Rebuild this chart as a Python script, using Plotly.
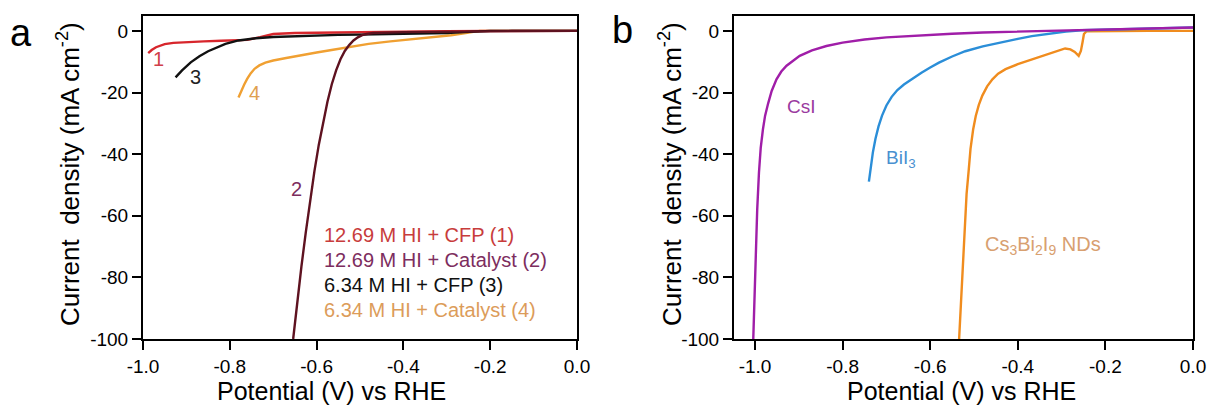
import plotly.graph_objects as go

W, H = 1210, 405
FONT = "Arial, 'Liberation Sans', sans-serif"

# ---------------- Panel a data ----------------
x1 = [-0.988, -0.98, -0.97, -0.96, -0.95, -0.93, -0.90, -0.86, -0.82, -0.78, -0.76, -0.73, -0.70,
      -0.65, -0.60, -0.55, -0.50, -0.46, -0.40, -0.30, -0.20, -0.10, 0.0]
y1 = [-7.2, -6.2, -5.3, -4.7, -4.3, -3.9, -3.6, -3.4, -3.2, -3.1, -2.9, -2.0, -1.0,
      -0.7, -0.6, -0.5, -0.4, -0.3, -0.2, -0.1, -0.05, 0.0, 0.0]

x2 = [-0.654, -0.645, -0.635, -0.625, -0.615, -0.605, -0.595, -0.585, -0.575, -0.565, -0.555,
      -0.545, -0.535, -0.525, -0.515, -0.505, -0.495, -0.485, -0.47, -0.40, -0.30, -0.15, 0.0]
y2 = [-100, -88.5, -76.5, -65.5, -55, -45.5, -37, -29.5, -23, -17.3, -12.8,
      -9.2, -6.5, -4.6, -3.1, -2.1, -1.4, -1.0, -0.7, -0.4, -0.2, -0.05, 0.0]

x3 = [-0.925, -0.91, -0.89, -0.87, -0.85, -0.83, -0.81, -0.78, -0.74, -0.70, -0.65, -0.60,
      -0.55, -0.50, -0.45, -0.40, -0.35, -0.30, -0.26, -0.23, -0.20, -0.10, 0.0]
y3 = [-15.1, -12.8, -10.2, -8.2, -6.6, -5.3, -4.2, -3.1, -2.4, -2.0, -1.7, -1.5,
      -1.3, -1.2, -1.1, -1.0, -0.9, -0.7, -0.4, -0.1, 0.0, 0.0, 0.0]

x4 = [-0.780, -0.774, -0.767, -0.760, -0.752, -0.743, -0.732, -0.718, -0.70, -0.67, -0.638,
      -0.60, -0.562, -0.527, -0.48, -0.43, -0.38, -0.331, -0.29, -0.26, -0.24, -0.224, -0.15, 0.0]
y4 = [-21.6, -19.6, -17.5, -15.6, -13.8, -12.3, -11.2, -10.3, -9.6, -8.8, -7.9,
      -7.0, -6.1, -5.2, -4.2, -3.4, -2.7, -2.1, -1.4, -0.8, -0.3, 0.0, 0.0, 0.0]

legend_a = ["12.69 M HI + CFP (1)", "12.69 M HI + Catalyst (2)",
            "6.34 M HI + CFP (3)", "6.34 M HI + Catalyst (4)"]

# ---------------- Panel b data ----------------
x_csi = [-1.004, -1.001, -0.998, -0.995, -0.991, -0.987, -0.982, -0.977, -0.970, -0.962, -0.951,
         -0.94, -0.928, -0.912, -0.898, -0.87, -0.837, -0.80, -0.75, -0.70, -0.633, -0.55, -0.48,
         -0.40, -0.30, -0.25, -0.15, -0.05, 0.0]
y_csi = [-100, -85, -70, -58, -46, -38, -32, -27.5, -23.5, -19.5, -15.7,
         -13.2, -11.3, -9.5, -8.1, -6.3, -4.9, -3.8, -2.8, -2.1, -1.5, -0.9, -0.5,
         -0.2, 0.1, 0.3, 0.6, 0.9, 1.1]

x_bii = [-0.740, -0.736, -0.731, -0.725, -0.718, -0.710, -0.700, -0.688, -0.675, -0.66, -0.64,
         -0.62, -0.60, -0.58, -0.55, -0.52, -0.48, -0.443, -0.40, -0.368, -0.33, -0.29, -0.254,
         -0.15, 0.0]
y_bii = [-48.9, -44.0, -39.5, -35.0, -31.0, -27.5, -24.2, -21.4, -19.2, -17.4, -15.4,
         -13.6, -11.9, -10.3, -8.3, -6.6, -5.0, -3.8, -2.6, -1.7, -0.9, -0.2, 0.2,
         0.6, 1.1]

x_nd = [-0.534, -0.530, -0.525, -0.521, -0.517, -0.512, -0.508, -0.502, -0.496, -0.489, -0.481,
        -0.470, -0.458, -0.445, -0.428, -0.40, -0.367, -0.33, -0.292, -0.28, -0.27, -0.261,
        -0.256, -0.252, -0.249, -0.243, -0.20, -0.10, 0.0]
y_nd = [-100, -88, -75, -63, -53, -45, -38.3, -32, -27.6, -24, -21,
        -18, -15.7, -13.9, -12.4, -10.8, -9.2, -7.4, -5.7, -6.0, -6.8, -8.1,
        -6.5, -3.5, -1.0, -0.1, 0.0, 0.0, 0.0]

x_ticks = [-1.0, -0.8, -0.6, -0.4, -0.2, 0.0]
x_tick_text = ["-1.0", "-0.8", "-0.6", "-0.4", "-0.2", "0.0"]
y_ticks = [0, -20, -40, -60, -80, -100]
y_tick_text = ["0", "-20", "-40", "-60", "-80", "-100"]

# ---------------- colours ----------------
C1, C2, C3, C4 = "#d7262c", "#5e1220", "#111111", "#f0a032"
C_CSI, C_BII, C_ND = "#a01ea8", "#2b8ed8", "#f08c1e"

fig = go.Figure()
LW = 2.4
fig.add_trace(go.Scatter(x=x4, y=y4, mode="lines", line=dict(color=C4, width=LW), xaxis="x", yaxis="y"))
fig.add_trace(go.Scatter(x=x1, y=y1, mode="lines", line=dict(color=C1, width=LW), xaxis="x", yaxis="y"))
fig.add_trace(go.Scatter(x=x3, y=y3, mode="lines", line=dict(color=C3, width=LW), xaxis="x", yaxis="y"))
fig.add_trace(go.Scatter(x=x2, y=y2, mode="lines", line=dict(color=C2, width=LW), xaxis="x", yaxis="y"))

fig.add_trace(go.Scatter(x=x_nd, y=y_nd, mode="lines", line=dict(color=C_ND, width=LW), xaxis="x2", yaxis="y2"))
fig.add_trace(go.Scatter(x=x_bii, y=y_bii, mode="lines", line=dict(color=C_BII, width=LW), xaxis="x2", yaxis="y2"))
fig.add_trace(go.Scatter(x=x_csi, y=y_csi, mode="lines", line=dict(color=C_CSI, width=LW), xaxis="x2", yaxis="y2"))

TOP, BOT = 15.5, 339
ydom = [1 - BOT / H, 1 - TOP / H]

axis_common = dict(showline=True, linecolor="black", linewidth=2, mirror=True,
                   ticks="outside", ticklen=9, tickwidth=2, tickcolor="black",
                   showgrid=False, zeroline=False, automargin=False,
                   tickfont=dict(family=FONT, size=19, color="black"))

fig.update_layout(
    width=W, height=H, margin=dict(l=0, r=0, t=0, b=0, pad=0, autoexpand=False),
    paper_bgcolor="white", plot_bgcolor="white", showlegend=False,
    xaxis=dict(domain=[143 / W, 577 / W], range=[-1.0, 0.0], anchor="y",
               tickvals=x_ticks, ticktext=x_tick_text, **axis_common),
    yaxis=dict(domain=ydom, range=[-100, 5], anchor="x",
               tickvals=y_ticks, ticktext=y_tick_text, **axis_common),
    xaxis2=dict(domain=[734 / W, 1193 / W], range=[-1.048, 0.0], anchor="y2",
                tickvals=x_ticks, ticktext=x_tick_text, **axis_common),
    yaxis2=dict(domain=ydom, range=[-100, 5], anchor="x2",
                tickvals=y_ticks, ticktext=y_tick_text, **axis_common),
)

ann = []
def pa(text, x, y, size, color="black", xref="paper", yref="paper", angle=0, xanchor="center"):
    ann.append(dict(text=text, x=x, y=y, xref=xref, yref=yref, showarrow=False,
                    textangle=angle, xanchor=xanchor, yanchor="middle",
                    font=dict(family=FONT, size=size, color=color)))

# panel letters
pa("a", 21 / W, 1 - 33 / H, 38)
pa("b", 622 / W, 1 - 30 / H, 38)
# axis titles
ytitle = "Current  density (mA cm<sup>-2</sup>)"
pa(ytitle, 69 / W, 1 - 174 / H, 26, angle=-90)
pa(ytitle, 671 / W, 1 - 174 / H, 26, angle=-90)
pa("Potential (V) vs RHE", 331 / W, 1 - 391 / H, 25)
pa("Potential (V) vs RHE", 961 / W, 1 - 391 / H, 25)

# curve numbers in panel a
pa("1", -0.965, -9.0, 20, "#d0404a", "x", "y")
pa("3", -0.880, -14.9, 20, "#222222", "x", "y")
pa("4", -0.742, -20.3, 20, "#dfa050", "x", "y")
pa("2", -0.646, -51.2, 20, "#7d2d5e", "x", "y")

# legend text panel a
leg_colors = ["#c83c3c", "#7d2d5e", "#111111", "#dc9c5a"]
leg_y = [-66.4, -74.5, -82.6, -90.7]
for t, c, yy in zip(legend_a, leg_colors, leg_y):
    pa(t, -0.5876, yy, 20, c, "x", "y", xanchor="left")

# panel b labels
pa("CsI", -0.893, -24.4, 19, "#9a3aa0", "x2", "y2")
pa("BiI<sub>3</sub>", -0.666, -41.6, 19, "#4a90d0", "x2", "y2")
pa("Cs<sub>3</sub>Bi<sub>2</sub>I<sub>9</sub> NDs", -0.343, -69.8, 20, "#d8a070", "x2", "y2")

fig.update_layout(annotations=ann)
fig.write_html("out.html")
